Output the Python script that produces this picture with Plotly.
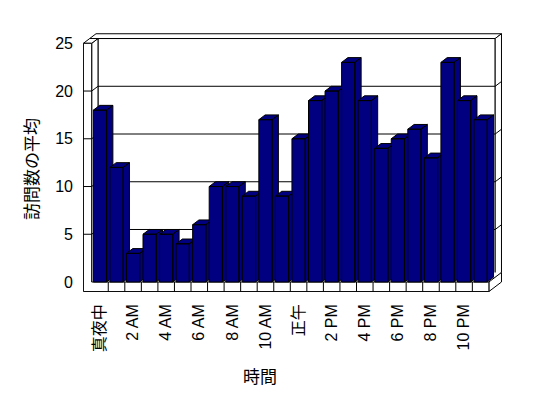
import plotly.graph_objects as go

# ---- data ----
hour_labels = ['真夜中', '1 AM', '2 AM', '3 AM', '4 AM', '5 AM', '6 AM', '7 AM', '8 AM', '9 AM',
               '10 AM', '11 AM', '正午', '1 PM', '2 PM', '3 PM', '4 PM', '5 PM', '6 PM', '7 PM',
               '8 PM', '9 PM', '10 PM', '11 PM']
avg_visits = [18, 12, 3, 5, 5, 4, 6, 10, 10, 9, 17, 9, 15, 19, 20, 23, 19, 14, 15, 16, 13, 23, 19, 17]
y_ticks = [0, 5, 10, 15, 20, 25]
y_title = '訪問数の平均'
x_title = '時間'

# ---- style / geometry ----
W, H = 548, 398
ML, MR, MT, MB = 83, 46, 33, 106
NAVY = '#000080'
FONT = 'Liberation Sans, Noto Sans CJK JP'
DX, DY = 0.38, 0.5          # 3-D depth offset in axis units
BW = 0.4                    # half bar width
N = len(avg_visits)
XL, XR = -0.5, N - 0.5      # front plane category extent
YT = 25                     # top of value axis
WALL = 0.5                  # left wall thickness (x units)
FLOOR = 1.0                 # floor thickness (y units)

fig = go.Figure()

# bars as 3-D prisms (front, top, side faces)
for i, v in enumerate(avg_visits):
    x0, x1 = i - BW, i + BW
    xs = [x0, x0, x1, x1, x0, None,
          x0, x0 + DX, x1 + DX, x1, x0, None,
          x1, x1, x1 + DX, x1 + DX, x1]
    ys = [0, v, v, 0, 0, None,
          v, v + DY, v + DY, v, v, None,
          0, v, v + DY, DY, 0]
    fig.add_trace(go.Scatter(
        x=xs, y=ys, mode='lines', fill='toself', fillcolor=NAVY,
        line=dict(color='black', width=1), hoverinfo='skip', showlegend=False,
        name=hour_labels[i]))

shapes = []
def poly(pts, fill='white', lw=1):
    d = 'M ' + ' L '.join(f'{x},{y}' for x, y in pts) + ' Z'
    shapes.append(dict(type='path', path=d, xref='x', yref='y', layer='below',
                       fillcolor=fill, line=dict(color='black', width=lw)))
def seg(a, b):
    shapes.append(dict(type='line', xref='x', yref='y', layer='below',
                       x0=a[0], y0=a[1], x1=b[0], y1=b[1],
                       line=dict(color='black', width=1)))

# back wall front face, top, right side
poly([(XL + DX, DY), (XR + DX, DY), (XR + DX, YT + DY), (XL + DX, YT + DY)])
poly([(XL - WALL + DX, YT + DY), (XR + DX, YT + DY), (XR + 2 * DX, YT + 2 * DY), (XL - WALL + 2 * DX, YT + 2 * DY)])
poly([(XR + DX, DY), (XR + DX, YT + DY), (XR + 2 * DX, YT + 2 * DY), (XR + 2 * DX, 2 * DY)])
# left wall inner face and top
poly([(XL, 0), (XL + DX, DY), (XL + DX, YT + DY), (XL, YT)])
poly([(XL - WALL, YT), (XL, YT), (XL + DX, YT + DY), (XL - WALL + DX, YT + DY)])
# floor top (no outline), floor right side
poly([(XL, 0), (XR, 0), (XR + 2 * DX, 2 * DY), (XL + DX, 2 * DY)], lw=0)
poly([(XR, 0), (XR + 2 * DX, 2 * DY), (XR + 2 * DX, 2 * DY - FLOOR), (XR, -FLOOR)])
# left wall front + floor front (L shape)
poly([(XL - WALL, YT), (XL - WALL, -FLOOR), (XR, -FLOOR), (XR, 0), (XL, 0), (XL, YT)])

# gridlines on walls and tick marks on left wall front
for v in y_ticks[1:-1]:
    seg((XL + DX, v + DY), (XR + DX, v + DY))
    seg((XL, v), (XL + DX, v + DY))
    seg((XR + DX, v + DY), (XR + 2 * DX, v + 2 * DY))
    seg((XL - WALL, v), (XL, v))
# floor dividers
for i in range(N - 1):
    seg((i + 0.5, -FLOOR), (i + 0.5, 0))

pw = W - ML - MR
ph = H - MT - MB
xpx = (XR - XL) / (91.7 + 16.55 * N - 91.7)  # not used directly
x_range = [XL - (91.7 - ML) / 16.55, XL + (W - MR - 91.7) / 16.55]
y_range = [-(MT + ph - 282.0) / 9.548, YT + (43.3 - MT) / 9.548]

def px2paper(px, py):
    return (px - ML) / pw, (MT + ph - py) / ph

ytx, yty = px2paper(32, 169)
xtx, xty = px2paper(260, 377)

fig.update_layout(
    width=W, height=H,
    margin=dict(l=ML, r=MR, t=MT, b=MB, pad=0),
    paper_bgcolor='white', plot_bgcolor='white',
    showlegend=False,
    font=dict(family=FONT, size=16, color='black'),
    shapes=shapes,
    xaxis=dict(range=x_range, showgrid=False, zeroline=False, showline=False,
               tickmode='array', tickvals=list(range(0, N, 2)), ticktext=hour_labels[::2],
               tickangle=-90, ticks='', ticklabelstandoff=8,
               tickfont=dict(family=FONT, size=16, color='black'), fixedrange=True),
    yaxis=dict(range=y_range, showgrid=False, zeroline=False, showline=False,
               tickmode='array', tickvals=y_ticks, ticks='', ticklabelstandoff=9,
               tickfont=dict(family=FONT, size=16, color='black'), fixedrange=True),
    annotations=[
        dict(text=y_title, xref='paper', yref='paper', x=ytx, y=yty, textangle=-90,
             showarrow=False, xanchor='center', yanchor='middle',
             font=dict(family=FONT, size=17, color='black')),
        dict(text=x_title, xref='paper', yref='paper', x=xtx, y=xty,
             showarrow=False, xanchor='center', yanchor='middle',
             font=dict(family=FONT, size=17, color='black')),
    ],
)

fig.write_html('out.html')
